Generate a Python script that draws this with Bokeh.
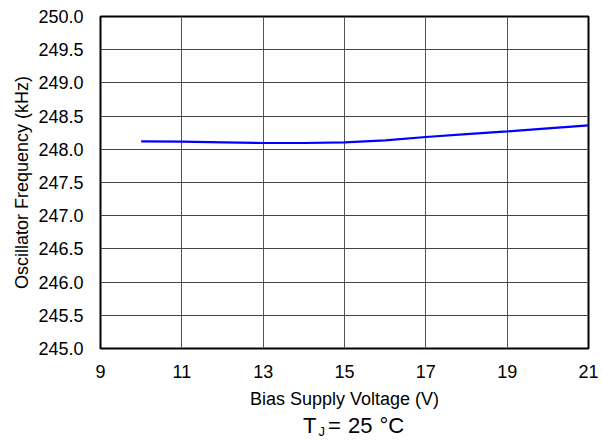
from bokeh.plotting import figure
from bokeh.models import FixedTicker, PrintfTickFormatter, Range1d, Div
from bokeh.layouts import column
from bokeh.embed import file_html
from bokeh.resources import INLINE

voltage = [10, 11, 12, 13, 14, 15, 16, 17, 18, 19, 20, 21]
freq_khz = [248.12, 248.115, 248.105, 248.095, 248.095, 248.105, 248.135,
            248.185, 248.23, 248.27, 248.315, 248.36]
x_ticks = [9, 11, 13, 15, 17, 19, 21]
y_ticks = [245.0, 245.5, 246.0, 246.5, 247.0, 247.5, 248.0, 248.5, 249.0, 249.5, 250.0]

FONT = "Liberation Sans"

p = figure(frame_width=488, frame_height=332, output_backend="svg",
           toolbar_location=None, x_range=Range1d(9, 21), y_range=Range1d(245, 250),
           min_border_left=100, min_border_right=10, min_border_top=16,
           min_border_bottom=64)

p.line(voltage, freq_khz, line_color="#0000FF", line_width=2.2)

p.outline_line_color = "black"
p.outline_line_width = 2
p.outline_line_alpha = 1

for ax in (p.xaxis, p.yaxis):
    ax.axis_line_color = None
    ax.major_tick_line_color = None
    ax.minor_tick_line_color = None
    ax.major_tick_out = 0
    ax.major_tick_in = 0
    ax.major_label_text_font = FONT
    ax.major_label_text_font_size = "18px"
    ax.major_label_text_color = "black"
    ax.axis_label_text_font = FONT
    ax.axis_label_text_font_size = "18px"
    ax.axis_label_text_font_style = "normal"
    ax.axis_label_text_color = "black"

p.xaxis.ticker = FixedTicker(ticks=x_ticks)
p.yaxis.ticker = FixedTicker(ticks=y_ticks)
p.yaxis.formatter = PrintfTickFormatter(format="%.1f")
p.xaxis.major_label_standoff = 16
p.yaxis.major_label_standoff = 17
p.xaxis.axis_label = "Bias Supply Voltage (V)"
p.yaxis.axis_label = "Oscillator Frequency (kHz)"
p.xaxis.axis_label_standoff = 8
p.yaxis.axis_label_standoff = 3

p.xgrid.grid_line_color = "#555555"
p.ygrid.grid_line_color = "#444444"
p.xgrid.grid_line_width = 1
p.ygrid.grid_line_width = 1

note = Div(
    text=("<div style=\"padding-left:298px; padding-top:0px; margin-top:-2px; "
          "font-family:'Liberation Sans'; font-size:22px; color:black; "
          "white-space:nowrap; line-height:22px; word-spacing:1px;\">"
          "T<span style=\"font-size:13px; margin-left:2px; position:relative; top:3px;\">J</span>"
          "<span style=\"margin-left:3px;\">= 25 °C</span></div>"),
    width=598, height=26)

layout = column(p, note, spacing=0)

open("out.html", "w").write(file_html(layout, INLINE))
